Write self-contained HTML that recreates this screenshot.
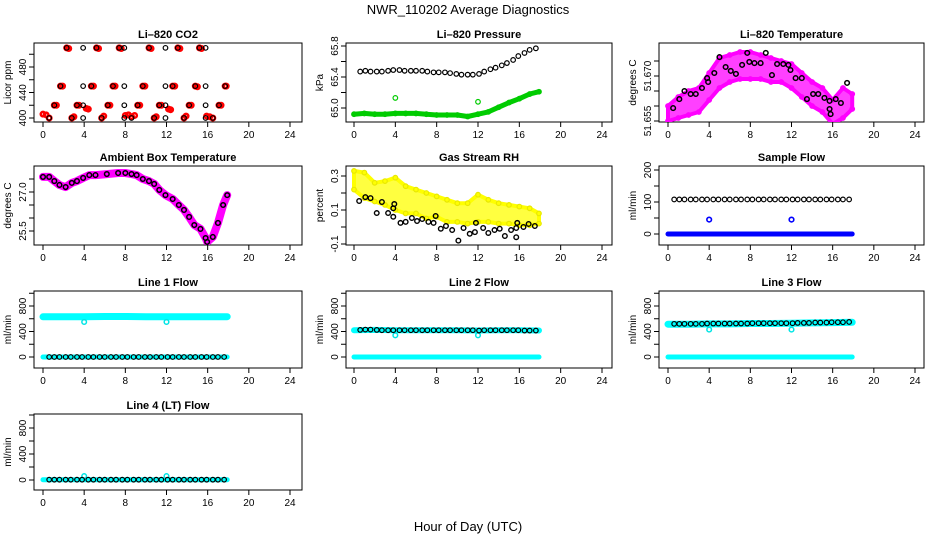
<!DOCTYPE html>
<html><head><meta charset="utf-8"><style>
html,body{margin:0;padding:0;background:#fff;}
svg{display:block;font-family:"Liberation Sans",sans-serif;}
</style></head><body>
<svg id="chart" width="936" height="540" viewBox="0 0 936 540" xmlns="http://www.w3.org/2000/svg">
<text x="468" y="14" text-anchor="middle" font-size="13">NWR_110202  Average Diagnostics</text>
<text x="468" y="531" text-anchor="middle" font-size="13">Hour of Day (UTC)</text>
</svg>
<script>
// ---------- data ----------
const xTicks = [0,4,8,12,16,20,24];
const blackHours = [0.6,1.1,1.6,2.2,2.7,3.3,3.8,4.4,4.9,5.5,6.0,6.6,7.1,7.7,8.2,8.8,9.3,9.9,10.4,11.0,11.5,12.1,12.6,13.2,13.7,14.3,14.8,15.4,15.9,16.5,17.0,17.6];
const knotHours = [0,2,4,6,8,10,12,14,16,17.9];

// CO2
const co2BlackHours = [2.3,3.9,5.2,7.4,7.9,10.3,11.9,13.1,15.2,15.8, 1.7,3.9,4.7,6.8,7.9,9.7,11.9,12.6,14.8,15.8,17.7, 1.1,3.3,3.9,6.3,7.9,9.2,11.3,11.9,14.2,15.8,17.1, 0.6,2.8,3.9,5.7,7.9,8.6,10.8,11.9,13.7,15.8,16.5];
const co2BlackVals = [510,510,510,510,510,510,510,510,510,510, 450,450,450,450,450,450,450,450,450,450,450, 420,420,420,420,420,420,420,420,420,420,420, 400,400,400,400,400,400,400,400,400,400,400];
const co2RedHours = [2.3,2.5,5.2,5.4,7.4,7.6,10.3,10.5,13.1,13.3,15.2,15.4, 1.7,1.9,4.7,4.9,6.8,7.0,9.7,9.9,12.6,12.8,14.8,15.0,17.7,17.8, 1.1,1.3,3.3,3.5,4.2,4.4,6.3,6.5,9.2,9.4,11.3,11.5,12.2,12.4,14.2,14.4,17.1,17.3, 0.0,0.3,0.6,2.8,3.0,5.7,5.9,8.0,8.3,8.6,8.9,10.8,11.0,13.7,13.9,15.9,16.2,16.5];
const co2RedVals = [510,509,510,509,510,509,510,509,510,509,510,509, 450,450,450,450,450,450,450,450,450,450,450,449,450,450, 420,420,420,420,415,414,420,420,420,420,420,420,414,413,420,420,420,420, 406,405,400,400,402,400,403,404,405,402,404,400,402,400,403,403,402,400];

// Pressure
const presBlack = [65.47,65.48,65.47,65.47,65.47,65.48,65.49,65.49,65.48,65.48,65.48,65.48,65.47,65.46,65.46,65.46,65.45,65.44,65.43,65.43,65.43,65.44,65.47,65.50,65.52,65.55,65.58,65.62,65.67,65.71,65.75,65.77];
const presGreenHours = [0,1,2,3,4,5,6,7,8,9,10,11,12,13,14,15,16,17,17.9];
const presGreen = [64.92,64.93,64.92,64.92,64.93,64.93,64.93,64.92,64.91,64.91,64.91,64.89,64.92,64.95,65.01,65.07,65.12,65.18,65.21];
const presOutHours = [4.0,12.0];
const presOut = [65.13,65.08];

// Li-820 temperature
const tempBlackHours = [0.5,1.1,1.6,2.2,2.7,3.3,3.8,3.9,4.5,5.0,5.6,6.1,6.6,7.2,7.7,7.9,8.4,9.0,9.5,10.1,10.6,11.2,11.7,11.9,12.4,13.0,13.5,14.1,14.6,15.2,15.7,15.7,15.8,16.3,16.8,17.4];
const tempBlack = [51.6593,51.6623,51.6650,51.6640,51.6640,51.6660,51.6693,51.6680,51.6710,51.6763,51.6730,51.6717,51.6707,51.6737,51.6777,51.6747,51.6743,51.6743,51.6777,51.6703,51.6740,51.6740,51.6737,51.6720,51.6693,51.6693,51.6623,51.6640,51.6640,51.6627,51.6617,51.6590,51.6573,51.6623,51.6610,51.6677];
const tempBandHours = [0,1,2,3,4,5,6,7,8,9,10,11,12,13,14,15,16,17,17.9];
const tempHigh = [51.660,51.663,51.665,51.666,51.671,51.676,51.677,51.678,51.678,51.677,51.676,51.675,51.674,51.671,51.668,51.666,51.662,51.666,51.664];
const tempLow = [51.655,51.656,51.657,51.658,51.662,51.666,51.668,51.669,51.669,51.669,51.668,51.668,51.666,51.663,51.660,51.658,51.654,51.656,51.659];

// Ambient box temperature
const ambHours = [0,0.6,1.1,1.6,2.2,2.8,3.3,3.9,4.5,5.1,6.2,7.3,8.0,8.6,9.1,9.7,10.3,10.8,11.3,11.9,12.6,13.2,13.7,14.2,14.7,15.3,15.8,15.95,16.5,17.0,17.5,17.9];
const ambVals = [27.58,27.58,27.42,27.27,27.19,27.35,27.42,27.54,27.65,27.65,27.69,27.73,27.73,27.69,27.65,27.50,27.42,27.31,27.08,26.88,26.73,26.50,26.31,26.04,25.73,25.58,25.23,25.08,25.27,25.81,26.50,26.88];

// Gas stream RH
const rhBandHours = [0,1,2,3,4,5,6,7,8,9,10,11,12,13,14,15,16,17,17.9];
const rhHigh = [0.33,0.32,0.26,0.27,0.29,0.24,0.22,0.20,0.18,0.16,0.14,0.14,0.19,0.16,0.14,0.13,0.12,0.11,0.08];
const rhLow = [0.22,0.17,0.15,0.13,0.10,0.08,0.08,0.05,0.06,0.03,0.03,0.02,0.03,0.03,0.02,0.02,0.01,0.01,0.02];
const rhBlackHours = [0.5,1.1,1.6,2.2,2.7,3.3,3.8,3.9,3.8,4.5,5.0,5.6,6.1,6.6,7.2,7.7,7.9,8.4,8.9,9.5,10.1,10.6,11.2,11.7,11.8,12.5,13.0,13.6,14.1,14.6,15.2,15.7,15.7,15.8,16.4,16.9,17.5];
const rhBlack = [0.153,0.176,0.170,0.082,0.147,0.082,0.110,0.135,0.060,0.024,0.030,0.053,0.035,0.047,0.030,0.024,0.065,-0.010,0.006,-0.018,-0.080,-0.006,-0.040,-0.030,0.024,-0.006,-0.035,-0.018,-0.010,-0.053,-0.018,-0.006,-0.060,0.024,0.000,0.018,0.006];

// Flows
const sampleBlack = [108,108,108,108,108,108,108,108,108,108,108,108,108,108,108,108,108,108,108,108,108,108,108,108,108,108,108,108,108,108,108,108];
const sampleBlue = [0,0,0,0,0,0,0,0,0,0];
const sampleOut = [45,45];
const line1Black = [0,0,0,0,0,0,0,0,0,0,0,0,0,0,0,0,0,0,0,0,0,0,0,0,0,0,0,0,0,0,0,0];
const line1CyanHigh = [630,630,630,635,635,630,630,630,632,632];
const line1CyanLow = [0,0,0,0,0,0,0,0,0,0];
const line1Out = [550,550];
const line2Black = [425,430,430,425,420,420,420,420,420,420,420,420,420,420,420,420,420,420,420,420,420,415,420,420,420,420,420,420,420,415,415,415];
const line2CyanHigh = [420,425,420,420,420,420,415,420,420,415];
const line2CyanLow = [0,0,0,0,0,0,0,0,0,0];
const line2Out = [340,340];
const line3Black = [520,520,520,520,520,520,525,525,525,525,525,525,525,525,530,530,530,530,530,530,530,530,535,535,535,540,540,540,545,545,545,550];
const line3CyanHigh = [515,515,520,520,525,525,530,535,540,545];
const line3CyanLow = [0,0,0,0,0,0,0,0,0,0];
const line3Out = [430,430];
const line4Black = [5,5,5,5,5,5,5,5,5,5,5,5,5,5,5,5,5,5,5,5,5,5,5,5,5,5,5,5,5,5,5,5];
const line4Cyan = [5,5,5,5,5,5,5,5,5,5];
const line4Out = [60,60];
const outHours = [4.0,12.0];

// ---------- drawing ----------
const NS = 'http://www.w3.org/2000/svg';
const svg = document.getElementById('chart');
const cols = [{l:34,r:302,x0:43,x24:290},{l:346,r:612,x0:354,x24:602},{l:659,r:924,x0:668,x24:915}];
const rows = [{t:43,b:122},{t:166,b:245},{t:291,b:368},{t:414,b:490}];

function mk(tag, attrs, parent){
  const e = document.createElementNS(NS, tag);
  for (const k in attrs) e.setAttribute(k, attrs[k]);
  (parent||svg).appendChild(e);
  return e;
}

function panel(ci, ri, name, title, ylab, ref, ticks, labels, dec){
  const c = cols[ci], r = rows[ri];
  const g = mk('g', {});
  
  
  const sx = h => c.x0 + (c.x24 - c.x0) * h / 24;
  const sy = v => ref[1] + (ref[3] - ref[1]) * (v - ref[0]) / (ref[2] - ref[0]);
  const box = mk('rect', {x:c.l, y:r.t, width:c.r-c.l, height:r.b-r.t, fill:'none', stroke:'#000', 'stroke-width':1}, g);
  
  
  const t = mk('text', {x:(c.l+c.r)/2, y:r.t-5, 'text-anchor':'middle', 'font-size':11, 'font-weight':'bold'}, g);
  t.textContent = title;
  
  
  const yt = mk('text', {transform:`translate(${c.l-23},${(r.t+r.b)/2}) rotate(-90)`, 'text-anchor':'middle', 'font-size':10}, g);
  yt.textContent = ylab;
  
  
  const xa = mk('g', {}, g);
  
  
  mk('line', {x1:sx(0), x2:sx(24), y1:r.b, y2:r.b, stroke:'#000'}, xa);
  xTicks.forEach(h => {
    mk('line', {x1:sx(h), x2:sx(h), y1:r.b, y2:r.b+5, stroke:'#000'}, xa);
    const tl = mk('text', {x:sx(h), y:r.b+16, 'text-anchor':'middle', 'font-size':10}, xa);
    tl.textContent = h;
    
    
  });
  const ya = mk('g', {}, g);
  
  
  mk('line', {x1:c.l, x2:c.l, y1:sy(ticks[0]), y2:sy(ticks[ticks.length-1]), stroke:'#000'}, ya);
  ticks.forEach(v => mk('line', {x1:c.l-5, x2:c.l, y1:sy(v), y2:sy(v), stroke:'#000'}, ya));
  labels.forEach(v => {
    const tl = mk('text', {transform:`translate(${c.l-8},${sy(v)}) rotate(-90)`, 'text-anchor':'middle', 'font-size':10}, ya);
    tl.textContent = v.toFixed(dec||0);
    
    
  });
  const clip = 'clip' + ci + ri;
  const cp = mk('clipPath', {id:clip}, g);
  mk('rect', {x:c.l, y:r.t, width:c.r-c.l, height:r.b-r.t}, cp);
  const marks = mk('g', {'clip-path':`url(#${clip})`}, g);
  return {sx, sy, g:marks};
}

function pts(p, hs, vs, color, name, sw){
  const grp = mk('g', {}, p.g);
  
  
  hs.forEach((h, i) => {
    const c = mk('circle', {cx:p.sx(h), cy:p.sy(vs[i]), r:2.3, fill:'none', stroke:color, 'stroke-width':sw||1.2}, grp);
    
    
  });
}
function band(p, hs, vs, color, name, w){
  const d = hs.map((h,i)=>(i?'L':'M')+p.sx(h).toFixed(1)+' '+p.sy(vs[i]).toFixed(1)).join(' ');
  const e = mk('path', {d, fill:'none', stroke:color, 'stroke-width':w, 'stroke-linecap':'round', 'stroke-linejoin':'round'}, p.g);
  
  
}
function area(p, hs, hi, lo, color, name){
  let d = hs.map((h,i)=>(i?'L':'M')+p.sx(h).toFixed(1)+' '+p.sy(hi[i]).toFixed(1)).join(' ');
  for (let i = hs.length-1; i >= 0; i--) d += ' L'+p.sx(hs[i]).toFixed(1)+' '+p.sy(lo[i]).toFixed(1);
  const e = mk('path', {d:d+' Z', fill:color, 'fill-opacity':0.75, stroke:color, 'stroke-width':4, 'stroke-linejoin':'round'}, p.g);
  
  
}

const flowTicks = [0,200,400,600,800,1000], flowLabels = [0,400,800];

let p = panel(0,0,'co2','Li\u2013820 CO2','Licor ppm',[400,118,480,67],[400,420,440,460,480,500],[400,440,480],0);
pts(p, co2RedHours, co2RedVals, '#ff0000', 'co2-red-series', 2.4);
pts(p, co2BlackHours, co2BlackVals, '#000', 'co2-black-series');

p = panel(1,0,'pressure','Li\u2013820 Pressure','kPa',[65.0,108,65.8,46],[65.0,65.2,65.4,65.6,65.8],[65.0,65.4,65.8],1);
band(p, presGreenHours, presGreen, '#00cc00', 'pressure-green-band', 5);
pts(p, presGreenHours, presGreen, '#00cc00', 'pressure-green-series');
pts(p, presOutHours, presOut, '#00cc00', 'pressure-green-outliers');
pts(p, blackHours, presBlack, '#000', 'pressure-black-series');

p = panel(2,0,'li820-temp','Li\u2013820 Temperature','degrees C',[51.655,121,51.670,76],[51.655,51.660,51.665,51.670,51.675],[51.655,51.670],3);
area(p, tempBandHours, tempHigh, tempLow, '#ff00ff', 'temp-magenta-cloud');
pts(p, tempBandHours, tempHigh, '#ff00ff', 'temp-magenta-high');
pts(p, tempBandHours, tempLow, '#ff00ff', 'temp-magenta-low');
pts(p, tempBlackHours, tempBlack, '#000', 'temp-black-series', 1.5);

p = panel(0,1,'ambient','Ambient Box Temperature','degrees C',[25.5,231,27.0,192],[25.5,26.0,26.5,27.0,27.5],[25.5,27.0],1);
band(p, ambHours, ambVals, '#ff00ff', 'ambient-magenta-band', 8);
pts(p, ambHours, ambVals, '#000', 'ambient-black-series', 1.5);

p = panel(1,1,'rh','Gas Stream RH','percent',[-0.1,244,0.3,176],[-0.1,0.0,0.1,0.2,0.3],[-0.1,0.1,0.3],1);
area(p, rhBandHours, rhHigh, rhLow, '#ffff00', 'rh-yellow-cloud');
pts(p, rhBandHours, rhHigh, '#e8e800', 'rh-yellow-high');
pts(p, rhBandHours, rhLow, '#e8e800', 'rh-yellow-low');
pts(p, rhBlackHours, rhBlack, '#000', 'rh-black-series', 1.4);

p = panel(2,1,'sample-flow','Sample Flow','ml/min',[0,234,200,170],[0,50,100,150,200],[0,100,200],0);
band(p, knotHours, sampleBlue, '#0000ff', 'sample-blue-band', 5);
pts(p, outHours, sampleOut, '#0000ff', 'sample-blue-outliers', 1.6);
pts(p, blackHours, sampleBlack, '#000', 'sample-black-series');

p = panel(0,2,'line1','Line 1 Flow','ml/min',[0,357,800,306],flowTicks,flowLabels,0);
band(p, knotHours, line1CyanHigh, '#00ffff', 'line1-cyan-high-band', 7);
band(p, knotHours, line1CyanLow, '#00ffff', 'line1-cyan-low-band', 5);
pts(p, outHours, line1Out, '#00e5e5', 'line1-cyan-outliers', 1.5);
pts(p, blackHours, line1Black, '#000', 'line1-black-series');

p = panel(1,2,'line2','Line 2 Flow','ml/min',[0,357,800,306],flowTicks,flowLabels,0);
band(p, knotHours, line2CyanHigh, '#00ffff', 'line2-cyan-high-band', 6);
band(p, knotHours, line2CyanLow, '#00ffff', 'line2-cyan-low-band', 5);
pts(p, outHours, line2Out, '#00e5e5', 'line2-cyan-outliers', 1.5);
pts(p, blackHours, line2Black, '#000', 'line2-black-series');

p = panel(2,2,'line3','Line 3 Flow','ml/min',[0,357,800,306],flowTicks,flowLabels,0);
band(p, knotHours, line3CyanHigh, '#00ffff', 'line3-cyan-high-band', 7);
band(p, knotHours, line3CyanLow, '#00ffff', 'line3-cyan-low-band', 5);
pts(p, outHours, line3Out, '#00e5e5', 'line3-cyan-outliers', 1.5);
pts(p, blackHours, line3Black, '#000', 'line3-black-series');

p = panel(0,3,'line4','Line 4 (LT) Flow','ml/min',[0,480,800,428],flowTicks,flowLabels,0);
band(p, knotHours, line4Cyan, '#00ffff', 'line4-cyan-band', 5);
pts(p, outHours, line4Out, '#00e5e5', 'line4-cyan-outliers', 1.5);
pts(p, blackHours, line4Black, '#000', 'line4-black-series');
</script>
</body></html>
